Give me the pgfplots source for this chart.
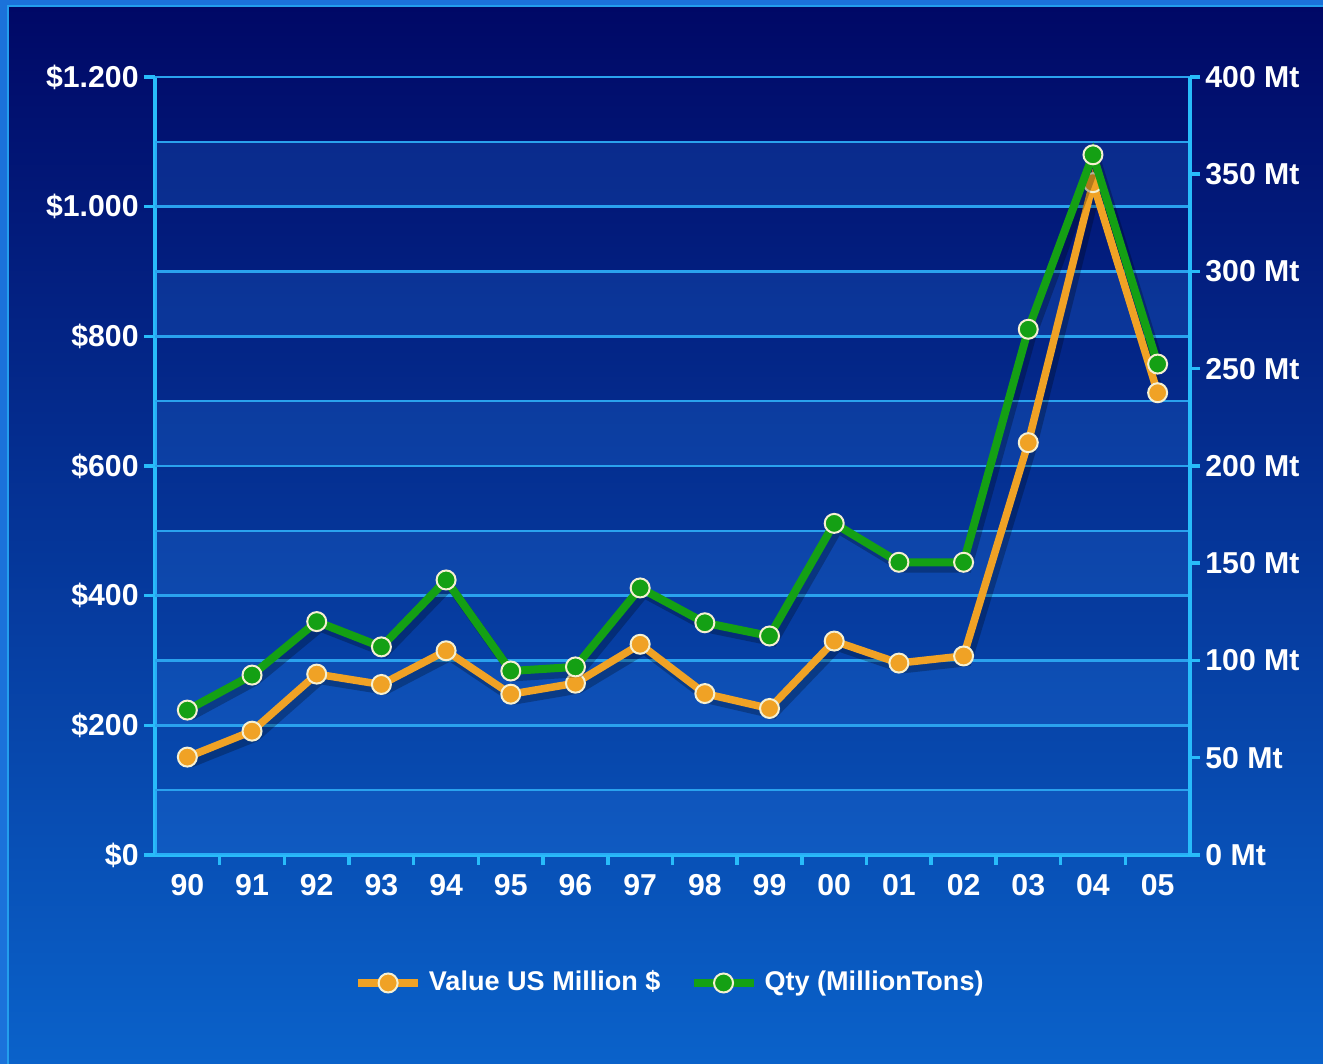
\documentclass[border=0pt]{standalone}
\usepackage{fontspec}
\setmainfont{Liberation Sans}
\usepackage{pgfplots}
\pgfplotsset{compat=1.18}
\definecolor{bgtop}{HTML}{000866}
\definecolor{bgmid}{HTML}{03349C}
\definecolor{bgbot}{HTML}{0A62CA}
\definecolor{framec}{HTML}{1B72DA}
\definecolor{gridc}{HTML}{2AA2EE}
\definecolor{axisc}{HTML}{28BCFA}
\definecolor{bandc}{HTML}{2A7EE8}
\definecolor{valc}{HTML}{F0A225}
\definecolor{qtyc}{HTML}{14A014}
\definecolor{markc}{HTML}{F5F0D2}

\pgfplotstableread{
x val qty
0 151 74.5
1 191 92.5
2 279 120
3 263 107
4 315 141.4
5 248 94.6
6 265 96.7
7 325 137.3
8 249 119.4
9 226 112.6
10 330 170.5
11 296 150.5
12 307 150.5
13 636 270.3
14 1037 360
15 713 252.4
}\data

\pgfplotsset{
  valstyle/.style={valc, line width=0.75mm, mark=*, mark size=0.95mm,
    mark options={fill=valc, draw=markc, line width=0.2mm}},
  qtystyle/.style={qtyc, line width=0.8mm, mark=*, mark size=0.95mm,
    mark options={fill=qtyc, draw=markc, line width=0.2mm}},
  shadowstyle/.style={black, opacity=0.25, line width=0.85mm, mark=none, forget plot, xshift=0.4mm, yshift=-0.6mm},
  common/.style={
    at={(15.5mm,20.9mm)}, anchor=south west,
    scale only axis, width=103.5mm, height=77.8mm,
    xmin=-0.5, xmax=15.5,
    axis line style={axisc, line width=0.35mm},
    every tick/.style={axisc, line width=0.35mm},
    tick align=outside,
    ticklabel style={font=\bfseries\fontsize{8.6}{10}\selectfont, text=white},
    clip=false,
  },
}

\begin{document}
\begin{tikzpicture}[x=0.1mm,y=0.1mm]
\useasboundingbox (0,0) rectangle (1323,1064);
\fill[framec] (0,0) rectangle (1323,1064);
\shade[top color=bgtop, middle color=bgmid, bottom color=bgbot] (8,0) rectangle (1323,1058);
\draw[axisc!60!framec, line width=0.25mm] (8,0) -- (8,1058) -- (1323,1058);

\begin{axis}[common,
  ymin=0, ymax=1200,
  axis x line*=bottom, axis y line*=left,
  xtick={0,...,15},
  xticklabels={90,91,92,93,94,95,96,97,98,99,00,01,02,03,04,05},
  major x tick style={draw=none},
  minor xtick={0.5,1.5,...,14.5},
  minor tick length=1.0mm,
  major tick length=1.1mm,
  xticklabel style={yshift=0.4mm},
  yticklabel style={xshift=0.7mm},
  ytick={0,200,...,1200},
  yticklabels={\$0,\$200,\$400,\$600,\$800,\$1.000,\$1.200},
]
\fill[bandc, opacity=0.22] (axis cs:-0.5,0) rectangle (axis cs:15.5,100);
\fill[bandc, opacity=0.22] (axis cs:-0.5,200) rectangle (axis cs:15.5,300);
\fill[bandc, opacity=0.22] (axis cs:-0.5,400) rectangle (axis cs:15.5,500);
\fill[bandc, opacity=0.22] (axis cs:-0.5,600) rectangle (axis cs:15.5,700);
\fill[bandc, opacity=0.22] (axis cs:-0.5,800) rectangle (axis cs:15.5,900);
\fill[bandc, opacity=0.22] (axis cs:-0.5,1000) rectangle (axis cs:15.5,1100);
\pgfplotsinvokeforeach{100,200,300,400,500,600,700,800,900,1000,1100,1200}{
  \draw[gridc, line width=0.25mm] (axis cs:-0.5,#1) -- (axis cs:15.5,#1);
}
\addplot[shadowstyle] table[x=x, y=val] {\data};
\addplot[valstyle] table[x=x, y=val] {\data};
\end{axis}

\begin{axis}[common,
  ymin=0, ymax=400,
  axis x line=none, axis y line*=right,
  major tick length=1.0mm,
  yticklabel style={xshift=-0.7mm},
  ytick={0,50,...,400},
  yticklabels={0 Mt,50 Mt,100 Mt,150 Mt,200 Mt,250 Mt,300 Mt,350 Mt,400 Mt},
  legend style={at={(0.5,-0.1645)}, anchor=center, draw=none, fill=none,
    text=white, font=\bfseries\fontsize{7.7}{9}\selectfont,
    /tikz/every even column/.append style={column sep=2.2mm}},
  legend columns=2,
  legend image code/.code={\draw[mark repeat=2, mark phase=2, #1] plot coordinates {(0mm,0mm) (3mm,0mm) (6mm,0mm)};},
]
\addlegendimage{valstyle}
\addlegendentry{Value US Million \$}
\addplot[shadowstyle] table[x=x, y=qty] {\data};
\addplot[qtystyle] table[x=x, y=qty] {\data};
\addlegendentry{Qty (MillionTons)}
\end{axis}
\end{tikzpicture}
\end{document}
